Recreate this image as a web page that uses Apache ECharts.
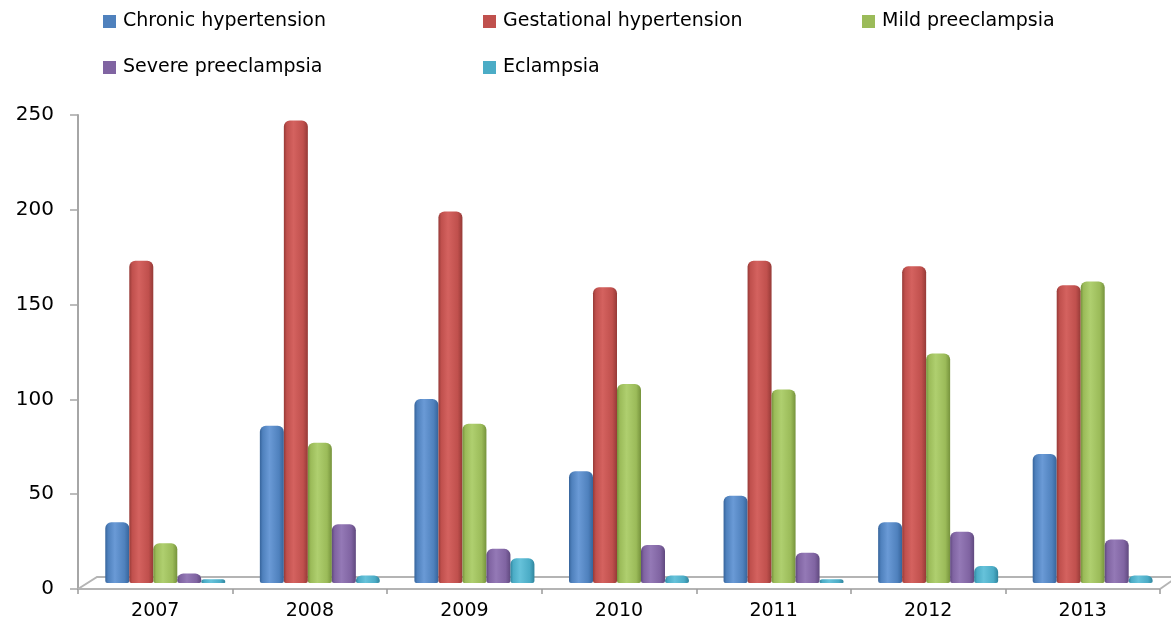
<!DOCTYPE html>
<html>
<head>
<meta charset="utf-8">
<title>Hypertension by year</title>
<script src="https://cdn.jsdelivr.net/npm/echarts@6/dist/echarts.min.js"></script>
<style>
  html, body { margin: 0; padding: 0; background: #fff; }
  #chart { width: 1171px; height: 625px; }
</style>
</head>
<body>
<div id="chart"></div>
<script>
// data
var years = ['2007', '2008', '2009', '2010', '2011', '2012', '2013']
var seriesNames = ['Chronic hypertension', 'Gestational hypertension', 'Mild preeclampsia', 'Severe preeclampsia', 'Eclampsia']
var chronic = [32, 83, 97, 59, 46, 32, 68]
var gestational = [170, 244, 196, 156, 170, 167, 157]
var mild = [21, 74, 84, 105, 102, 121, 159]
var severe = [5, 31, 18, 20, 16, 27, 23]
var eclampsia = [2, 4, 13, 4, 2, 9, 4]
var yTicks = [0, 50, 100, 150, 200, 250]

var values = [chronic, gestational, mild, severe, eclampsia]
// base, light, dark for the cylinder look
var colors = [
  ['#4f81bd', '#6a9ad6', '#36649b'],
  ['#c0504d', '#d4625f', '#963a37'],
  ['#9bbb59', '#afcf6f', '#76933c'],
  ['#8064a2', '#9479b6', '#60497f'],
  ['#4bacc6', '#66c2da', '#30859d']
]
var font = 'DejaVu Sans'

var chart = echarts.init(document.getElementById('chart'))

function cylinder (c) {
  return new echarts.graphic.LinearGradient(0, 0, 1, 0, [
    { offset: 0, color: c[2] },
    { offset: 0.12, color: c[0] },
    { offset: 0.4, color: c[1] },
    { offset: 0.8, color: c[0] },
    { offset: 1, color: c[2] }
  ])
}

// legend laid out as a 3 column grid, one component per item
var legendPos = [[103, 12], [483, 12], [862, 12], [103, 58], [483, 58]]
var legends = seriesNames.map(function (name, i) {
  return {
    left: legendPos[i][0],
    top: legendPos[i][1],
    padding: 0,
    icon: 'rect',
    itemWidth: 13,
    itemHeight: 13,
    selectedMode: false,
    textStyle: { fontFamily: font, fontSize: 19, color: '#000', padding: [0, 0, 0, 2] },
    data: [{ name: name, itemStyle: { color: colors[i][0] } }]
  }
})

var series = seriesNames.map(function (name, i) {
  return {
    name: name,
    type: 'bar',
    xAxisIndex: 1,
    yAxisIndex: 1,
    barWidth: 24,
    barGap: '0%',
    itemStyle: {
      color: cylinder(colors[i]),
      borderRadius: [6, 6, 2, 2]
    },
    data: values[i]
  }
})

var option = {
  backgroundColor: '#fff',
  animation: false,
  legend: legends,
  grid: [
    // visible axes
    { left: 78, right: 11, top: 115, bottom: 36 },
    // bars, pushed back a little like the 3d floor
    { left: 88, right: 1, top: 109, bottom: 42 }
  ],
  xAxis: [
    {
      type: 'category',
      gridIndex: 0,
      data: years,
      axisLine: { lineStyle: { color: '#b4b4b4', width: 2 } },
      axisTick: { show: true, length: 5, lineStyle: { color: '#9a9a9a', width: 1.5 } },
      axisLabel: { fontFamily: font, fontSize: 19, color: '#000', margin: 13 }
    },
    {
      type: 'category',
      gridIndex: 1,
      data: years,
      show: false
    }
  ],
  yAxis: [
    {
      type: 'value',
      gridIndex: 0,
      min: yTicks[0],
      max: yTicks[yTicks.length - 1],
      interval: 50,
      splitLine: { show: false },
      axisLine: { show: true, lineStyle: { color: '#a6a6a6', width: 2 } },
      axisTick: { show: true, length: 8, lineStyle: { color: '#a6a6a6', width: 1.5 } },
      axisLabel: { fontFamily: font, fontSize: 20, color: '#000', margin: 24 }
    },
    {
      type: 'value',
      gridIndex: 1,
      min: yTicks[0],
      max: yTicks[yTicks.length - 1],
      show: false,
      splitLine: { show: false }
    }
  ],
  series: series,
  graphic: [
    {
      // floor of the 3d plot
      type: 'polyline',
      z: 1,
      shape: { points: [[78, 589], [97, 577], [1175, 577]] },
      style: { stroke: '#b4b4b4', lineWidth: 2, fill: null }
    },
    {
      type: 'line',
      z: 1,
      shape: { x1: 1160, y1: 589, x2: 1173, y2: 580 },
      style: { stroke: '#b4b4b4', lineWidth: 2 }
    }
  ]
}

chart.setOption(option)
</script>
</body>
</html>
